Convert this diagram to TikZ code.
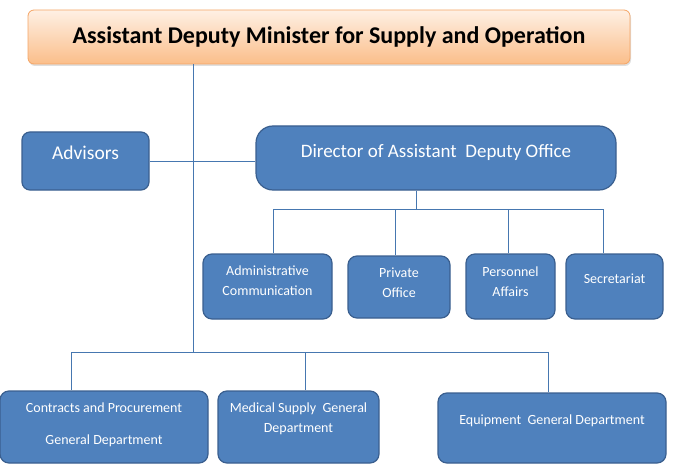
\documentclass[tikz,border=0pt]{standalone}
\usepackage{fontspec}
\setmainfont{Carlito}
\usepackage{xcolor}
\usepackage{tikz}
\usetikzlibrary{positioning,calc,shadows}
\definecolor{unitblue}{HTML}{4F81BD}
\definecolor{unitedge}{HTML}{3A5F8F}
\definecolor{linkblue}{HTML}{4677B0}
\definecolor{peachtop}{HTML}{FEF0E4}
\definecolor{peachbot}{HTML}{FBBE8A}
\definecolor{peachedge}{HTML}{F5A565}

\begin{document}
\begin{tikzpicture}[x=1pt,y=-1pt,
  unit/.style={draw=unitedge,line width=1.2pt,fill=unitblue,rounded corners=9pt,inner sep=0pt},
  boxtxt/.style={text=white,align=center,font=\fontsize{14}{20}\selectfont},
  link/.style={draw=linkblue,line width=0.8pt}]
\useasboundingbox (0,0) rectangle (676,465);
\node[draw=peachedge,line width=0.8pt,rounded corners=6pt,top color=peachtop,bottom color=peachbot,
  minimum width=602pt,minimum height=54pt,inner sep=0pt,
  drop shadow={opacity=0.25,shadow xshift=1pt,shadow yshift=-2pt},
  font=\bfseries\fontsize{24}{28}\selectfont] (adm-min) at (329,37) {Assistant Deputy Minister for Supply and Operation};
\node[unit,minimum width=127pt,minimum height=58pt,rounded corners=8pt,
  label={[boxtxt,font=\fontsize{19.5}{22}\selectfont,yshift=8pt]center:Advisors}] (adv) at (85.5,161) {};
\node[unit,minimum width=360pt,minimum height=64pt,rounded corners=17pt,
  label={[boxtxt,font=\fontsize{19}{22}\selectfont,yshift=6pt]center:Director of Assistant\ \ Deputy Office}] (dir) at (436,158) {};
\node[unit,minimum width=129pt,minimum height=65pt,label={[boxtxt,yshift=5.5pt]center:Administrative\\Communication}] (comm) at (267.5,286.5) {};
\node[unit,minimum width=102pt,minimum height=62pt,label={[boxtxt,yshift=4pt]center:Private\\Office}] (priv) at (399,287) {};
\node[unit,minimum width=89pt,minimum height=65pt,label={[boxtxt,yshift=4.5pt]center:Personnel\\Affairs}] (pers) at (510.5,286.5) {};
\node[unit,minimum width=97pt,minimum height=65pt,label={[boxtxt,yshift=7.5pt]center:Secretariat}] (sec) at (614.5,286.5) {};
\node[unit,minimum width=208pt,minimum height=72pt,
  label={[boxtxt,font=\fontsize{14}{32}\selectfont,yshift=2pt]center:Contracts and Procurement\\General Department}] (cpgd) at (104,427) {};
\node[unit,minimum width=161pt,minimum height=72pt,
  label={[boxtxt,yshift=8pt]center:Medical Supply\ \ General\\Department}] (msgd) at (298.5,427) {};
\node[unit,minimum width=228pt,minimum height=70pt,
  label={[boxtxt,yshift=7pt]center:Equipment\ \ General Department}] (egd) at (552,428) {};
% trunk and bars
\coordinate (hub) at (193,352);
\coordinate (bar) at (416,209);
\coordinate (d1) at (273,209);
\coordinate (d2) at (395,209);
\coordinate (d3) at (508,209);
\coordinate (d4) at (603,209);
\coordinate (b1) at (71,352);
\coordinate (b2) at (305,352);
\coordinate (b3) at (548,352);
\draw[link] (adm-min.south -| hub) -- (hub);
\draw[link] (adv.east) -- (dir.west |- adv.east);
\draw[link] (dir.south -| bar) -- (bar);
\draw[link] (d1) -- (d4);
\draw[link] (d1) -- (d1 |- comm.north);
\draw[link] (d2) -- (d2 |- priv.north);
\draw[link] (d3) -- (d3 |- pers.north);
\draw[link] (d4) -- (d4 |- sec.north);
\draw[link] (b1) -- (b3);
\draw[link] (b1) -- (b1 |- cpgd.north);
\draw[link] (b2) -- (b2 |- msgd.north);
\draw[link] (b3) -- (b3 |- egd.north);
\end{tikzpicture}
\end{document}
